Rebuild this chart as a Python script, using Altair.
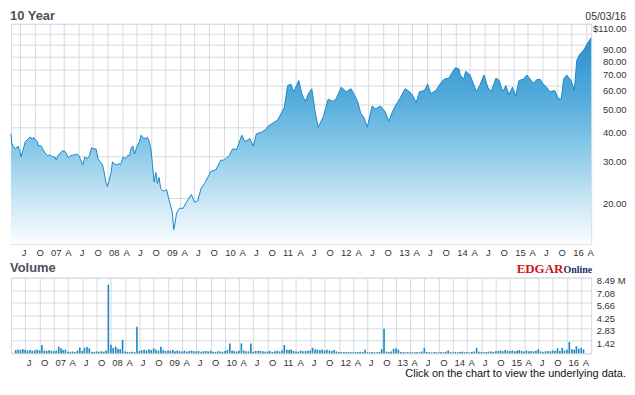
import altair as alt
import pandas as pd

# ---------------- data ----------------
price_dates = [
    # 2006 - 2008
    "2006-05-03", "2006-05-08", "2006-05-16", "2006-06-01", "2006-06-16", "2006-06-27", "2006-07-05", "2006-07-17",
    "2006-08-01", "2006-08-16", "2006-09-01", "2006-09-12", "2006-09-22", "2006-10-06", "2006-10-17", "2006-10-23",
    "2006-11-07", "2006-11-19", "2006-12-02", "2006-12-17", "2007-01-03", "2007-01-19", "2007-02-03", "2007-02-13",
    "2007-02-22", "2007-03-03", "2007-03-20", "2007-04-04", "2007-04-18", "2007-04-30", "2007-05-14", "2007-06-04",
    "2007-06-19", "2007-07-05", "2007-07-15", "2007-07-29", "2007-08-11", "2007-08-26", "2007-09-09", "2007-09-22",
    "2007-10-06", "2007-10-21", "2007-11-02", "2007-11-16", "2007-11-30", "2007-12-13", "2007-12-21", "2007-12-31",
    "2008-01-11", "2008-01-23", "2008-02-01", "2008-02-13", "2008-02-28", "2008-03-12", "2008-03-24", "2008-04-08",
    "2008-04-22", "2008-05-05", "2008-05-18", "2008-05-29", "2008-06-08", "2008-06-19", "2008-06-29", "2008-07-09",
    "2008-07-19", "2008-07-30", "2008-08-09", "2008-08-24", "2008-09-09", "2008-09-20", "2008-09-30", "2008-10-10",
    "2008-10-20", "2008-10-31", "2008-11-10", "2008-11-20", "2008-12-01", "2008-12-17",
    # 2009 - 2016
    "2009-01-07", "2009-01-21", "2009-02-11", "2009-02-21",
    "2009-03-02", "2009-03-11", "2009-03-28", "2009-04-21", "2009-05-11", "2009-06-12", "2009-07-02", "2009-07-22",
    "2009-08-12", "2009-09-03", "2009-09-23", "2009-10-13", "2009-11-13", "2009-12-14", "2010-01-04", "2010-02-05",
    "2010-02-25", "2010-03-25", "2010-04-25", "2010-05-15", "2010-06-15", "2010-07-06", "2010-07-26", "2010-08-26",
    "2010-09-27", "2010-10-07", "2010-12-08", "2011-01-18", "2011-02-08", "2011-02-28", "2011-03-18", "2011-04-19",
    "2011-05-10", "2011-05-30", "2011-06-19", "2011-07-10", "2011-08-01", "2011-08-20", "2011-09-20", "2011-10-21",
    "2011-11-21", "2011-12-12", "2012-01-12", "2012-02-12", "2012-03-13", "2012-04-03", "2012-04-23", "2012-05-13",
    "2012-06-03", "2012-06-23", "2012-07-24", "2012-08-14", "2012-09-14", "2012-10-15", "2012-11-05", "2012-11-25",
    "2012-12-16", "2013-01-16", "2013-02-16", "2013-03-17", "2013-04-07", "2013-04-27", "2013-05-18", "2013-06-18",
    "2013-07-08", "2013-07-28", "2013-08-29", "2013-09-29", "2013-10-20", "2013-11-20", "2013-12-10", "2013-12-30",
    "2014-01-21", "2014-01-30", "2014-02-20", "2014-03-05", "2014-04-01", "2014-04-21", "2014-05-11", "2014-06-01",
    "2014-06-28", "2014-07-22", "2014-08-12", "2014-09-12", "2014-10-02", "2014-10-23", "2014-11-13", "2014-12-03",
    "2014-12-24", "2015-01-14", "2015-02-04", "2015-03-04", "2015-03-25", "2015-04-15", "2015-05-05", "2015-05-26",
    "2015-06-16", "2015-07-06", "2015-07-27", "2015-08-17", "2015-09-17", "2015-10-07", "2015-10-28", "2015-11-11",
    "2015-12-01", "2015-12-28", "2016-01-18", "2016-02-02", "2016-02-18", "2016-03-19", "2016-04-08", "2016-05-03",
]
price_values = [
    # 2006 - 2008
    37.5, 34.3, 33.3, 32.3, 33.3, 31.8, 29.9, 31.8,
    34.7, 35.6, 36.4, 35.6, 36.2, 35.3, 34.7, 33.3,
    33.4, 32.3, 31.2, 30.3, 30.5, 30.0, 29.9, 29.0,
    30.3, 30.8, 31.6, 31.8, 30.8, 29.7, 30.3, 30.5,
    30.8, 30.3, 29.2, 27.7, 29.9, 29.4, 30.3, 32.7,
    32.4, 32.3, 29.4, 28.5, 27.7, 25.3, 23.4, 22.4,
    23.8, 25.7, 28.5, 28.0, 27.7, 28.0, 27.8, 29.9,
    29.4, 30.3, 30.3, 32.7, 33.3, 30.8, 32.3, 33.7,
    34.7, 37.0, 36.2, 35.8, 36.2, 34.7, 32.3, 27.7,
    23.4, 25.7, 23.1, 24.5, 21.9, 21.4,
    # 2009 - 2016
    21.7, 19.8, 17.5, 14.7,
    15.8, 17.3, 18.1, 18.1, 19.2, 20.7, 19.2, 19.5,
    22.0, 23.1, 24.5, 26.0, 26.4, 29.0, 29.0, 30.3,
    32.3, 32.3, 37.0, 34.7, 35.8, 33.3, 37.5, 38.1,
    39.3, 40.4, 43.0, 48.6, 60.1, 61.0, 56.6, 63.2,
    55.0, 51.5, 55.6, 58.3, 46.0, 40.0, 44.3, 52.6,
    51.5, 53.1, 59.2, 56.6, 58.3, 55.0, 51.5, 45.9,
    43.9, 40.0, 49.2, 47.9, 49.2, 46.4, 42.4, 45.9,
    49.2, 53.1, 58.3, 56.6, 54.4, 50.9, 56.6, 57.3,
    61.0, 55.6, 57.3, 61.7, 64.0, 64.7, 68.4, 71.6,
    70.8, 66.7, 64.0, 69.1, 66.7, 61.7, 56.6, 60.1,
    66.7, 59.2, 56.6, 64.7, 63.2, 56.6, 60.1, 55.0,
    59.2, 54.4, 63.2, 64.0, 66.7, 64.0, 61.7, 63.6,
    64.0, 61.0, 59.2, 56.6, 57.3, 53.1, 52.6, 64.0,
    66.7, 63.2, 57.3, 76.8, 81.0, 85.5, 90.6, 96.0,
]

# volume in millions, two readings per month (1st and 16th), May 2006 .. Apr 2016
vol_2006 = [0.35, 0.42, 0.38, 0.45, 0.40, 0.30, 0.36, 0.28, 0.34, 0.40, 0.32, 0.92, 0.30, 0.25, 0.33, 0.28]
vol_2007 = [0.22, 0.30, 0.74, 0.55, 0.35, 0.40, 0.18, 0.15, 0.20, 0.14, 0.30, 0.64,
            0.25, 0.60, 0.70, 0.55, 0.18, 0.15, 0.20, 0.16, 0.22, 0.18, 0.32, 7.70]
vol_2008 = [0.95, 0.60, 0.75, 0.50, 0.45, 1.50, 0.20, 0.15, 0.12, 0.18, 0.14, 2.97,
            0.25, 0.35, 0.40, 0.32, 0.45, 0.35, 0.55, 0.38, 0.30, 0.74, 0.35, 0.25]
vol_2009 = [0.30, 0.28, 0.35, 0.22, 0.30, 0.25, 0.20, 0.28, 0.18, 0.24, 0.30, 0.22,
            0.20, 0.26, 0.18, 0.22, 0.25, 0.20, 0.28, 0.18, 0.15, 0.22, 0.20, 0.17]
vol_2010 = [0.25, 0.35, 1.10, 0.30, 0.22, 0.20, 0.28, 1.10, 0.30, 0.22, 0.20, 1.10,
            0.15, 0.25, 0.28, 0.25, 0.22, 0.18, 0.20, 0.24, 0.15, 0.22, 0.28, 0.20]
vol_2011 = [0.30, 0.92, 0.40, 0.35, 0.42, 0.25, 0.20, 0.18, 0.30, 0.22, 0.25, 0.28,
            0.30, 0.60, 0.45, 0.40, 0.35, 0.42, 0.30, 0.38, 0.30, 0.25, 0.35, 0.20]
vol_2012 = [0.15, 0.12, 0.14, 0.10, 0.12, 0.15, 0.10, 0.12, 0.14, 0.18, 0.15, 0.40,
            0.12, 0.10, 0.14, 0.12, 0.10, 0.15, 0.45, 2.75, 0.18, 0.15, 0.20, 0.50]
vol_2013 = [0.55, 0.40, 0.15, 0.12, 0.10, 0.14, 0.12, 0.10, 0.12, 0.15, 0.12, 0.20,
            0.60, 0.15, 0.12, 0.10, 0.14, 0.12, 0.10, 0.15, 0.12, 0.18, 0.30, 0.12]
vol_2014 = [0.12, 0.15, 0.12, 0.14, 0.18, 0.12, 0.14, 0.10, 0.15, 0.20, 0.60, 0.18,
            0.15, 0.12, 0.14, 0.18, 0.20, 0.15, 0.22, 0.25, 0.30, 0.22, 0.35, 0.28]
vol_2015 = [0.25, 0.30, 0.22, 0.28, 0.35, 0.25, 0.20, 0.30, 0.22, 0.25, 0.20, 0.28,
            0.45, 0.20, 0.18, 0.22, 0.25, 0.20, 0.30, 0.28, 0.55, 0.25, 0.60, 0.30]
vol_2016 = [0.40, 1.25, 0.45, 0.38, 0.80, 0.50, 0.60, 0.42]

price_ticks = [20, 30, 40, 50, 60, 70, 80, 90, 100, 110]
volume_ticks = [0, 1.42, 2.83, 4.25, 5.66, 7.08, 8.49]

# ---------------- tables ----------------
volume_values = (vol_2006 + vol_2007 + vol_2008 + vol_2009 + vol_2010 + vol_2011
                 + vol_2012 + vol_2013 + vol_2014 + vol_2015 + vol_2016)
vol_dates = [f"{y}-{m:02d}-{d:02d}" for y in range(2006, 2017) for m in range(1, 13)
             for d in (1, 16) if (2006, 5) <= (y, m) <= (2016, 4)]

price_df = pd.DataFrame({"date": pd.to_datetime(price_dates), "price": price_values})
vol_df = pd.DataFrame({"date": pd.to_datetime(vol_dates), "volume": volume_values})

# ---------------- styling ----------------
W, H1, H2 = 583, 221, 76
GRID = "#d6dadf"
TXT = "#333333"
TITLE_C = "#4d525b"
FONT = "Liberation Sans"
LSIZE = 9.5
LINE_C = "#1b87c7"
VOL_C = "#1b86c1"

x_domain = [alt.DateTime(year=2006, month=5, date=3), alt.DateTime(year=2016, month=5, date=3)]
quarter_ticks = [alt.DateTime(year=y, month=m, date=1)
                 for y in range(2006, 2017) for m in (1, 4, 7, 10)
                 if (2006, 7) <= (y, m) <= (2016, 4)]
x_label_expr = ("month(datum.value) == 0 ? timeFormat(datum.value, '%y') : "
                "month(datum.value) == 3 ? 'A' : month(datum.value) == 6 ? 'J' : 'O'")


def x_enc(pad):
    return alt.X(
        "date:T",
        scale=alt.Scale(domain=x_domain),
        axis=alt.Axis(values=quarter_ticks, labelExpr=x_label_expr, title=None,
                      grid=True, gridColor=GRID, gridWidth=1, domain=False, ticks=False,
                      tickSize=0, labelAlign="left", labelOffset=1, labelPadding=pad,
                      labelBaseline="top", labelFont=FONT, labelFontSize=LSIZE,
                      labelColor=TXT, labelOverlap=False, labelFlush=False),
    )


def note(text, x, y, size=11, weight="normal", color=TXT, align="left",
         baseline="middle", font=FONT):
    return alt.Chart(pd.DataFrame({"t": [text]})).mark_text(
        align=align, baseline=baseline, fontSize=size, fontWeight=weight,
        color=color, font=font,
    ).encode(text="t:N", x=alt.value(x), y=alt.value(y))


gradient = alt.Gradient(
    gradient="linear",
    stops=[
        alt.GradientStop(color="#2a8fce", offset=0),
        alt.GradientStop(color="#55acdc", offset=0.3),
        alt.GradientStop(color="#8ecbea", offset=0.56),
        alt.GradientStop(color="#cde7f5", offset=0.8),
        alt.GradientStop(color="#fbfdfe", offset=1),
    ],
    x1=1, x2=1, y1=0, y2=1,
)

y_price = alt.Y(
    "price:Q",
    scale=alt.Scale(type="log", domain=[12.8, 110], nice=False),
    axis=alt.Axis(orient="right", values=price_ticks, title=None,
                  labelExpr="datum.value == 110 ? '$110.00' : datum.value == 100 ? '' : format(datum.value, '.2f')",
                  grid=True, gridColor=GRID, domain=False, ticks=False, tickSize=0,
                  labelAlign="right", labelPadding=35, labelBaseline="middle", labelOffset=5,
                  labelFont=FONT, labelFontSize=LSIZE, labelColor=TXT,
                  labelOverlap=False, labelFlush=False),
)

base = alt.Chart(price_df)
area = base.mark_area(color=gradient).encode(x=x_enc(4), y=y_price, y2=alt.datum(12.8))
line = base.mark_line(color=LINE_C, strokeWidth=1).encode(x=x_enc(4), y=y_price)

top = alt.layer(
    area, line,
    note("10 Year", -1, -8, size=13, weight="bold", color=TITLE_C),
    note("05/03/16", W + 35, -7, size=10.5, align="right"),
).properties(width=W, height=H1)

y_vol = alt.Y(
    "volume:Q",
    scale=alt.Scale(domain=[0, 8.49], nice=False),
    axis=alt.Axis(orient="right", values=volume_ticks, title=None,
                  labelExpr="datum.value == 0 ? '' : datum.value == 8.49 ? '8.49 M' : format(datum.value, '.2f')",
                  grid=True, gridColor=GRID, domain=False, ticks=False, tickSize=0,
                  labelAlign="left", labelPadding=5, labelBaseline="middle", labelOffset=3,
                  labelFont=FONT, labelFontSize=LSIZE, labelColor=TXT,
                  labelOverlap=False, labelFlush=False),
)

bars = alt.Chart(vol_df).mark_bar(color=VOL_C, size=1.6).encode(x=x_enc(4), y=y_vol)

bottom = alt.layer(
    bars,
    note("Volume", -1, -10, size=13, weight="bold", color=TITLE_C),
    note("EDGAR", W - 28, -5, size=13, weight="bold", color="#cf1420", align="right",
         baseline="alphabetic", font="Liberation Serif"),
    note("Online", W + 1, -5, size=10, weight="bold", color="#1d2f5c", align="right",
         baseline="alphabetic", font="Liberation Serif"),
    note("Click on the chart to view the underlying data.", W + 35, H2 + 21,
         color="#111111", align="right"),
).properties(width=W, height=H2)

chart = (
    alt.vconcat(top, bottom, spacing=34, bounds="flush")
    .properties(padding={"left": 0, "top": 0, "right": 0, "bottom": 0}, background="white")
    .configure_view(stroke=GRID, strokeWidth=1)
)

chart.save("out.html", embed_options={"renderer": "svg", "actions": False})
